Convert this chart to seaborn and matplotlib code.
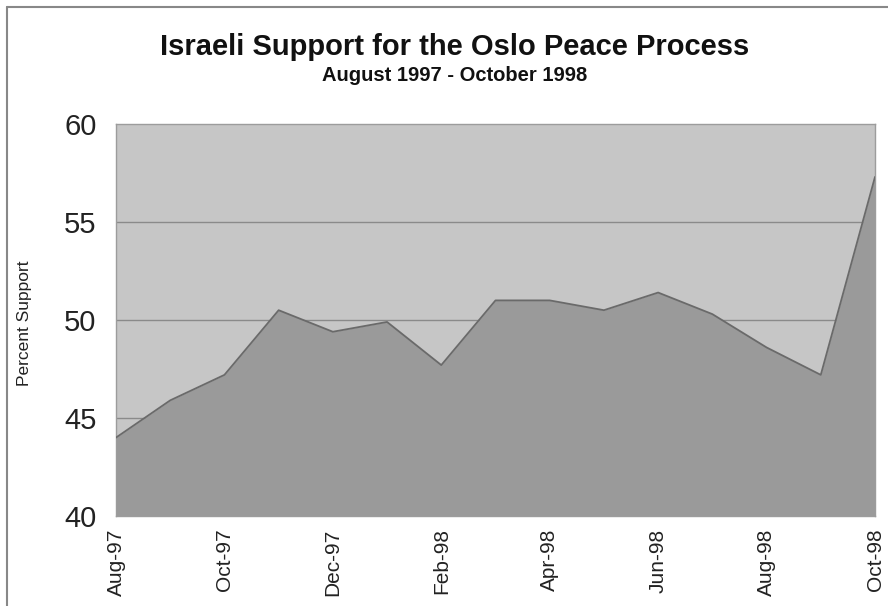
import matplotlib
matplotlib.use("Agg")
import matplotlib.pyplot as plt
from matplotlib.lines import Line2D
import seaborn as sns
import pandas as pd

months = ["Aug-97", "Sep-97", "Oct-97", "Nov-97", "Dec-97", "Jan-98", "Feb-98",
          "Mar-98", "Apr-98", "May-98", "Jun-98", "Jul-98", "Aug-98", "Sep-98", "Oct-98"]
support = [44.0, 45.9, 47.2, 50.5, 49.4, 49.9, 47.7,
           51.0, 51.0, 50.5, 51.4, 50.3, 48.6, 47.2, 57.3]
y_ticks = [40, 45, 50, 55, 60]

sns.set_theme(style="white")
plt.rcParams['font.family'] = ['Liberation Sans', 'DejaVu Sans']

df = pd.DataFrame({"idx": range(len(months)), "month": months, "support": support})

fig = plt.figure(figsize=(8.88, 6.06), dpi=100)
ax = fig.add_axes([116/888, 1-516/606, (875-116)/888, (516-124)/606])
ax.set_facecolor("#c6c6c6")

for yv in [45, 50, 55]:
    ax.axhline(yv, color="#8a8a8a", lw=1.0, zorder=1)

ax.fill_between(df["idx"], 40, df["support"], color="#9a9a9a", zorder=2, lw=0)
sns.lineplot(data=df, x="idx", y="support", ax=ax, color="#6a6a6a", lw=1.3, zorder=3)

ax.set_xlim(0, len(months)-1)
ax.set_ylim(40, 60)
ax.set_yticks(y_ticks)
ax.set_yticklabels([str(v) for v in y_ticks], fontsize=21, color="#222222")
ax.set_xticks(df["idx"][::2])
ax.set_xticklabels(df["month"][::2], rotation=90, fontsize=15, color="#222222")
ax.tick_params(axis="y", length=0, pad=14)
ax.tick_params(axis="x", length=3, color="#999999", pad=6)
ax.set_xlabel("")
ax.set_ylabel("Percent Support", fontsize=12.5, color="#222222")
ax.yaxis.set_label_coords((32-116)/759, (516-323)/392)
for s in ax.spines.values():
    s.set_color("#9c9c9c")
    s.set_linewidth(1.0)

fig.text(455/888, 1-55/606, "Israeli Support for the Oslo Peace Process",
         ha="center", va="baseline", fontsize=21, fontweight="bold", color="#111111")
fig.text(455/888, 1-81/606, "August 1997 - October 1998",
         ha="center", va="baseline", fontsize=14.5, fontweight="bold", color="#111111")

fig.add_artist(Line2D([7/888, 7/888], [0, 1-7/606], transform=fig.transFigure, color="#888888", lw=1.5))
fig.add_artist(Line2D([7/888, 1], [1-7/606, 1-7/606], transform=fig.transFigure, color="#888888", lw=1.5))

fig.savefig("out.png", dpi=100)
